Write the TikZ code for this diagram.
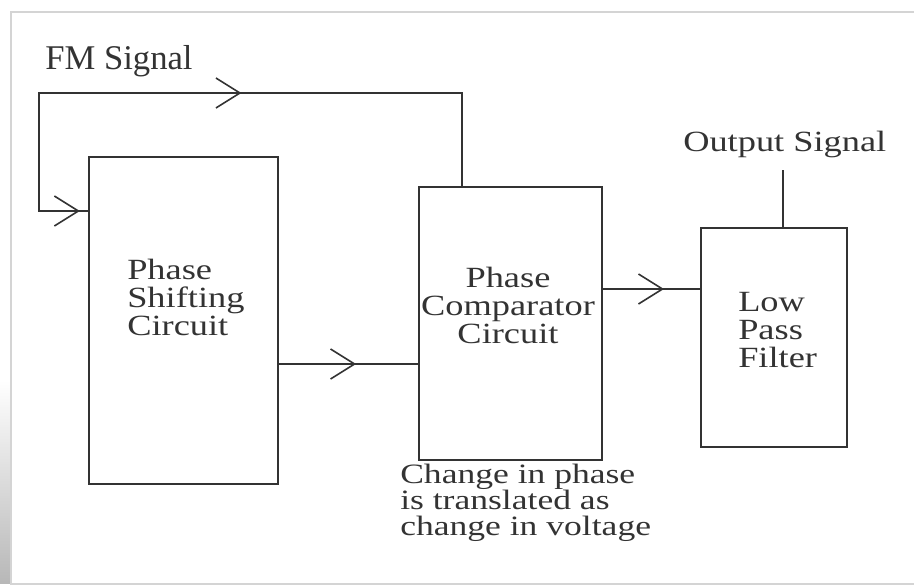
\documentclass[tikz,border=0pt]{standalone}
\usepackage{fontspec}
\setmainfont{Liberation Serif}
\newfontfamily\widefont[FakeStretch=1.24]{Liberation Serif}
\newfontfamily\capfont[FakeStretch=1.27]{Liberation Serif}
\usetikzlibrary{fit}
\definecolor{ink}{HTML}{333333}
\definecolor{framec}{HTML}{D4D4D4}
\tikzset{
  wire/.style={draw=ink, line width=1.2pt, line join=miter},
  blockbox/.style={draw=ink, line width=1.2pt, inner sep=0pt},
  lbl/.style={inner sep=0pt, text=ink, font=\widefont\fontsize{22}{21}\selectfont},
  pics/chev/.style={code={\draw[wire, line join=miter] (-24,-15) -- (0,0) -- (-24,15);}}
}
\begin{document}
\begin{tikzpicture}[x=0.75pt, y=-0.75pt]
\useasboundingbox (0,0) rectangle (914,586);
% frame and shadow
\shade[top color=white, bottom color=black!28] (0,380) rectangle (11,583);
\draw[framec, line width=0.8pt] (914,12) -- (11,12) -- (11,584) -- (914,584);
% block corners
\coordinate (a1) at (89,157);  \coordinate (a2) at (278,484);
\coordinate (b1) at (419,187); \coordinate (b2) at (602,460);
\coordinate (c1) at (701,228); \coordinate (c2) at (847,447);
\node[blockbox, fit=(a1)(a2)] (ps) {};
\node[blockbox, fit=(b1)(b2)] (cmp) {};
\node[blockbox, fit=(c1)(c2)] (lpf) {};
% texts
\node[lbl, anchor=north west, align=left] (pst) at (127,259) {Phase\\Shifting\\Circuit};
\node[lbl, anchor=north, align=center] (cmpt) at (508,267) {Phase\\Comparator\\Circuit};
\node[lbl, anchor=north west, align=left] (lpft) at (738,292) {Low\\Pass\\Filter};
\node[lbl, anchor=north west, align=left, font=\capfont\fontsize{21}{19.5}\selectfont] (cap) at (400,464) {Change in phase\\is translated as\\change in voltage};
\node[lbl, anchor=north west] (outt) at (683,131) {Output Signal};
\node[lbl, anchor=north west, font=\fontsize{26}{26}\selectfont] (fmt) at (45,45) {FM Signal};
% connector points
\coordinate (fmL) at (39,93);
\coordinate (fmB) at (39,211);
\coordinate (fmT) at (462,93);
\coordinate (m1) at (278,364);
\coordinate (m2) at (602,289);
\coordinate (out) at (783,170);
% connectors
\draw[wire] (fmB -| ps.west) -- pic[pos=0.2]{chev} (fmB) -- (fmL) -- pic[pos=0.475]{chev} (fmT) -- (fmT |- cmp.north);
\draw[wire] (m1) -- pic[pos=0.546]{chev} (m1 -| cmp.west);
\draw[wire] (m2) -- pic[pos=0.616]{chev} (m2 -| lpf.west);
\draw[wire] (out |- lpf.north) -- (out);
\end{tikzpicture}
\end{document}
